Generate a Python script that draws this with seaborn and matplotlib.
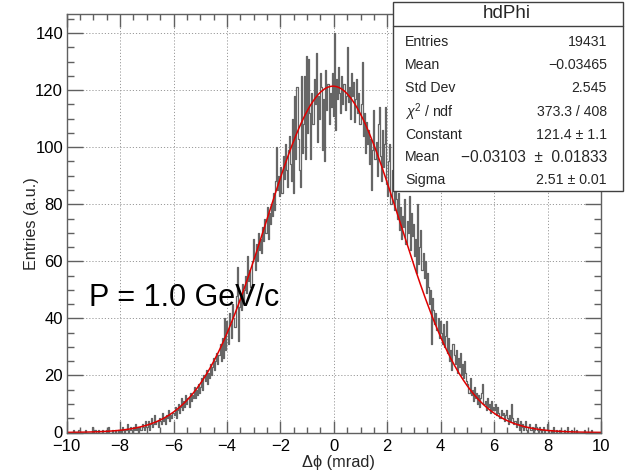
import numpy as np
import pandas as pd
import matplotlib
matplotlib.use("Agg")
import matplotlib.pyplot as plt
import seaborn as sns
from matplotlib.patches import Rectangle
from matplotlib.lines import Line2D
from matplotlib.ticker import MultipleLocator

# ---------------- data ----------------
x_min, x_max, n_bins = -10.0, 10.0, 500
counts_by_unit = [
    [0,0,0,0,0,0,1,0,0,0, 0,1,0,0,0,0,0,1,0,0, 0,0,0,0,2],            # -10..-9
    [0,1,0,0,1,0,0,0,1,0, 0,0,1,0,2,0,0,1,0,0, 1,0,0,1,0],            # -9..-8
    [1,0,2,1,0,1,3,0,1,2, 1,0,2,1,3,1,2,0,2,1, 3,2,1,4,2],            # -8..-7
    [2,4,1,3,5,2,3,6,3,4, 2,5,4,3,7,4,5,3,6,5, 8,4,6,5,7],            # -7..-6
    [6,9,5,8,10,7,9,12,8,11, 9,13,10,12,9,14,11,13,12,16, 12,15,13,17,14],   # -6..-5
    [16,19,15,20,18,22,17,21,19,24, 20,23,26,22,25,28,24,27,31,25, 33,26,40,29,39],  # -5..-4
    [36,31,42,38,33,45,40,37,48,58, 32,44,47,43,52,46,50,55,49,62, 53,57,51,60,68],  # -4..-3
    [62,57,66,60,70,64,68,63,72,67, 75,70,79,68,77,73,80,76,84,78, 88,100,85,90,83], # -3..-2
    [93,84,97,89,101,92,86,99,104,94, 88,110,84,118,96,121,103,92,86,125, 98,108,125,96,132], # -2..-1
    [105,131,112,96,119,108,124,115,133,102, 118,110,126,121,99,117,95,127,113,122, 108,119,114,126,111], # -1..0
    [140,106,124,117,128,119,112,125,115,122, 113,118,135,116,121,110,126,118,123,109, 117,124,112,119,108], # 0..1
    [115,130,104,112,98,109,101,106,94,103, 85,99,113,96,102,90,108,114,97,88, 106,93,101,114,87],  # 1..2
    [83,95,101,80,92,86,78,89,82,75, 84,71,79,68,76,72,82,66,74,70, 83,64,77,69,73],  # 2..3
    [62,68,56,80,59,65,71,57,63,54, 60,49,56,51,45,50,31,47,43,38, 42,36,40,33,39],  # 3..4
    [35,31,38,30,34,39,28,33,25,29, 22,31,27,24,29,21,26,23,28,20, 24,19,25,21,18],  # 4..5
    [17,14,19,13,15,11,16,12,14,10, 13,9,12,14,17,10,11,8,12,9, 10,7,11,8,9],        # 5..6
    [8,10,6,9,7,5,8,6,7,4, 6,8,5,3,6,4,10,5,3,4, 2,5,3,1,4],                         # 6..7
    [2,3,1,2,4,1,0,2,3,1, 2,0,1,3,2,1,0,2,1,0, 1,2,0,1,3],                           # 7..8
    [1,0,0,1,0,2,0,0,1,0, 0,1,0,0,0,1,0,0,2,0, 0,0,1,0,0],                           # 8..9
    [0,0,1,0,0,0,0,0,0,1, 0,0,0,0,0,0,1,0,0,0, 0,0,0,0,0],                           # 9..10
]
counts = [c for unit in counts_by_unit for c in unit]

# fit parameters (stat box)
fit_constant = 121.4
fit_mean = -0.03103
fit_sigma = 2.51

stat_title = "hdPhi"
stat_labels = ["Entries", "Mean", "Std Dev", r"$\chi^{2}$ / ndf", "Constant", "Mean", "Sigma"]
stat_values = ["19431", "\u22120.03465", "2.545", "373.3 / 408", "121.4 \u00b1 1.1",
               "\u22120.03103  \u00b1  0.01833", "2.51 \u00b1 0.01"]
stat_value_sizes = [10.2, 10.2, 10.2, 10.2, 10.2, 11.2, 10.2]

x_ticks = [-10, -8, -6, -4, -2, 0, 2, 4, 6, 8, 10]
y_ticks = [0, 20, 40, 60, 80, 100, 120, 140]
x_title = "\u0394\u03d5 (mrad)"
y_title = "Entries (a.u.)"
annotation = "P = 1.0 GeV/c"

# ---------------- figure ----------------
sns.set_theme(style="white")
plt.rcParams["font.family"] = ["Liberation Sans", "DejaVu Sans"]
plt.rcParams["mathtext.fontset"] = "custom"
plt.rcParams["mathtext.rm"] = "Liberation Sans"
plt.rcParams["mathtext.it"] = "Liberation Sans:italic"

W, H = 627, 472
fig = plt.figure(figsize=(W / 100, H / 100), dpi=100)
L, R, T, B = 66.7, 601.0, 14.0, 432.5
ax = fig.add_axes([L / W, 1 - B / H, (R - L) / W, (B - T) / H])

centers = x_min + (np.arange(n_bins) + 0.5) * (x_max - x_min) / n_bins
df = pd.DataFrame({"dphi": centers, "n": np.asarray(counts, dtype=float)})

ax.grid(True, which="major", color="#9a9a9a", linestyle=(0, (1.2, 2.0)), linewidth=0.7)
ax.set_axisbelow(True)

sns.histplot(data=df, x="dphi", weights="n", bins=n_bins, binrange=(x_min, x_max),
             element="step", fill=False, color="#666666", linewidth=0.9, ax=ax)

xf = np.linspace(x_min, x_max, 400)
yf = fit_constant * np.exp(-0.5 * ((xf - fit_mean) / fit_sigma) ** 2)
sns.lineplot(x=xf, y=yf, color="#e00000", linewidth=1.1, ax=ax)

ax.set_xlim(x_min, x_max)
ax.set_ylim(0, 146.7)
ax.set_xticks(x_ticks)
ax.set_yticks(y_ticks)
ax.xaxis.set_minor_locator(MultipleLocator(0.5))
ax.yaxis.set_minor_locator(MultipleLocator(5))
ax.set_xticklabels([f"{t}".replace("-", "\u2212") for t in x_ticks])
ax.set_yticklabels([str(t) for t in y_ticks])

frame_col = "#606060"
for s in ax.spines.values():
    s.set_color(frame_col)
    s.set_linewidth(1.0)
    s.set_visible(True)
ax.tick_params(axis="x", which="major", direction="in", top=True, bottom=True,
               length=9.0, width=1.0, color=frame_col, labelsize=12, pad=4.8, labelcolor="black")
ax.tick_params(axis="x", which="minor", direction="in", top=True, bottom=True,
               length=4.5, width=1.0, color=frame_col)
ax.tick_params(axis="y", which="major", direction="in", left=True, right=True,
               length=11.5, width=1.0, color=frame_col, labelsize=12, pad=2.6, labelcolor="black")
ax.tick_params(axis="y", which="minor", direction="in", left=True, right=True,
               length=5.3, width=1.0, color=frame_col)

ax.set_xlabel("")
ax.set_ylabel("")
fig.text(338 / W, 1 - 462 / H, x_title, ha="center", va="center", fontsize=11.8)
fig.text(31.5 / W, 1 - 224 / H, y_title, ha="center", va="center", rotation=90, fontsize=11.6)

ax.text(-9.15, 44.4, annotation, fontsize=22, ha="left", va="baseline", color="black")

# ---------------- stat box ----------------
bx0, bx1, by0, by1 = 393.3, 622.5, 2.0, 190.5
fig.add_artist(Rectangle((bx0 / W, 1 - by1 / H), (bx1 - bx0) / W, (by1 - by0) / H,
                         transform=fig.transFigure, facecolor="white",
                         edgecolor="#404040", linewidth=1.0, zorder=5))
fig.add_artist(Line2D([bx0 / W, bx1 / W], [1 - 25.5 / H, 1 - 25.5 / H],
                      transform=fig.transFigure, color="#404040", linewidth=1.0, zorder=6))
fig.text(507 / W, 1 - 14 / H, stat_title, ha="center", va="center",
         fontsize=13.5, zorder=7)
row_y = [42, 65, 88, 112, 135, 157, 180]
for lab, val, vs, yy in zip(stat_labels, stat_values, stat_value_sizes, row_y):
    fig.text(405 / W, 1 - yy / H, lab, ha="left", va="center", fontsize=10.2, zorder=7)
    fig.text(607 / W, 1 - yy / H, val, ha="right", va="center", fontsize=vs, zorder=7)

fig.savefig("out.png", dpi=100)
